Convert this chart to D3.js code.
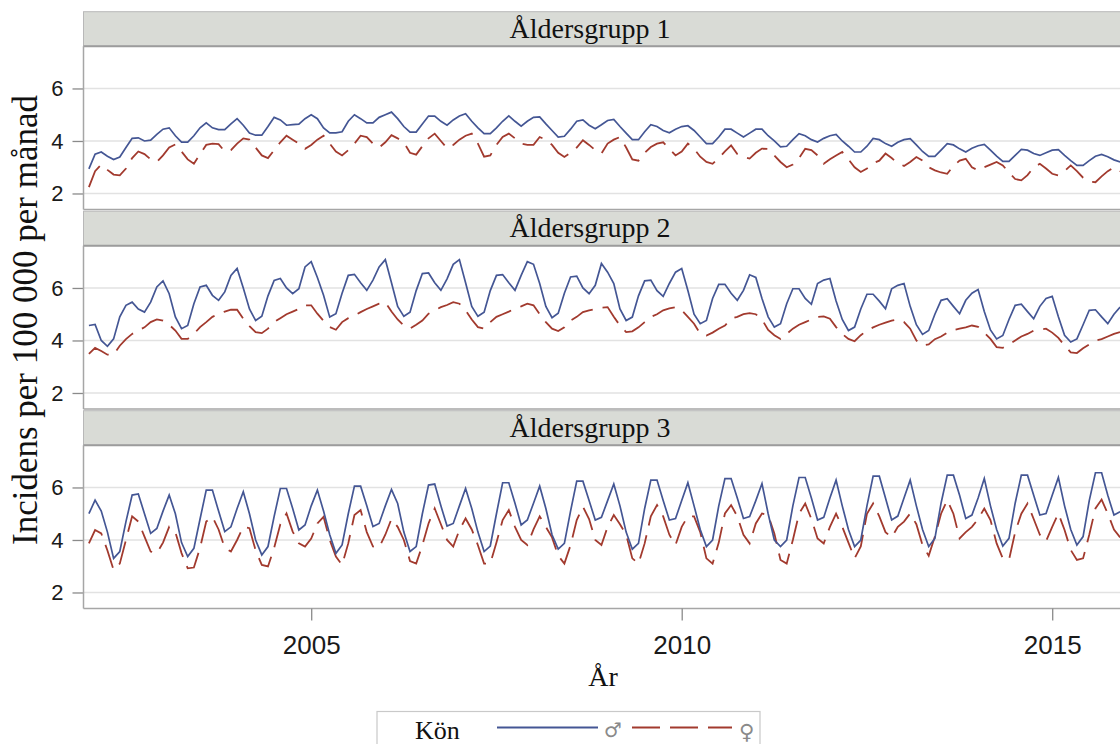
<!DOCTYPE html>
<html>
<head>
<meta charset="utf-8">
<script src="https://cdn.jsdelivr.net/npm/d3@7"></script>
<style>
  body { margin: 0; background: #fff; }
</style>
</head>
<body>
<div id="chart"></div>
<script>
'use strict';

// monthly series, Jan 2002 .. Dec 2015 (one row per year)
const START_YEAR = 2002;
const groupNames = ['Åldersgrupp 1', 'Åldersgrupp 2', 'Åldersgrupp 3'];
const yTickValues = [2, 4, 6];
const xTickValues = [2005, 2010, 2015];
const legendTitle = 'Kön';
const sexLabels = ['♂', '♀'];

const men1 = [
  2.94, 3.50, 3.58, 3.42, 3.29, 3.39, 3.75, 4.10, 4.12, 4.00, 4.03, 4.25,
  4.45, 4.50, 4.20, 3.96, 3.96, 4.20, 4.50, 4.69, 4.50, 4.43, 4.43, 4.65,
  4.85, 4.60, 4.30, 4.22, 4.22, 4.55, 4.90, 4.80, 4.60, 4.62, 4.64, 4.85,
  5.00, 4.85, 4.50, 4.31, 4.31, 4.35, 4.75, 5.00, 4.85, 4.69, 4.69, 4.90,
  5.00, 5.10, 4.85, 4.55, 4.34, 4.34, 4.65, 4.95, 4.95, 4.75, 4.60, 4.80,
  4.95, 5.04, 4.75, 4.50, 4.28, 4.28, 4.50, 4.75, 4.96, 4.75, 4.56, 4.75,
  4.90, 4.92, 4.65, 4.40, 4.15, 4.18, 4.45, 4.75, 4.80, 4.60, 4.47, 4.62,
  4.78, 4.82, 4.55, 4.30, 4.05, 4.05, 4.35, 4.62, 4.55, 4.40, 4.31, 4.45,
  4.55, 4.58, 4.40, 4.15, 3.90, 3.90, 4.15, 4.45, 4.45, 4.30, 4.15, 4.30,
  4.45, 4.45, 4.20, 4.00, 3.78, 3.80, 4.05, 4.28, 4.20, 4.05, 3.96, 4.10,
  4.20, 4.25, 4.00, 3.80, 3.58, 3.58, 3.80, 4.10, 4.05, 3.90, 3.80, 3.95,
  4.05, 4.09, 3.85, 3.60, 3.41, 3.41, 3.65, 3.90, 3.85, 3.70, 3.58, 3.72,
  3.82, 3.87, 3.65, 3.42, 3.22, 3.22, 3.45, 3.68, 3.65, 3.52, 3.45, 3.55,
  3.65, 3.67, 3.45, 3.25, 3.07, 3.07, 3.25, 3.42, 3.49, 3.40, 3.28, 3.20
];
const women1 = [
  2.24, 2.85, 3.10, 2.90, 2.72, 2.69, 2.95, 3.35, 3.60, 3.50, 3.30, 3.20,
  3.45, 3.75, 3.87, 3.60, 3.30, 3.13, 3.50, 3.85, 3.90, 3.88, 3.60, 3.65,
  3.90, 4.10, 4.05, 3.75, 3.45, 3.35, 3.65, 3.95, 4.20, 4.05, 3.90, 3.70,
  3.85, 4.05, 4.20, 3.90, 3.60, 3.45, 3.65, 3.90, 4.20, 4.15, 3.90, 3.75,
  3.95, 4.22, 4.10, 3.95, 3.55, 3.48, 3.80, 4.10, 4.28, 4.00, 3.72, 3.85,
  4.05, 4.20, 4.28, 3.90, 3.40, 3.45, 3.85, 4.15, 4.28, 4.10, 3.90, 3.85,
  3.85, 4.15, 4.05, 3.85, 3.55, 3.39, 3.55, 3.75, 4.03, 3.85, 3.65, 3.52,
  3.90, 4.05, 4.15, 3.75, 3.30, 3.25, 3.55, 3.77, 3.90, 3.95, 3.70, 3.45,
  3.60, 3.90, 3.70, 3.40, 3.20, 3.13, 3.35, 3.60, 3.83, 3.50, 3.40, 3.33,
  3.55, 3.71, 3.70, 3.45, 3.20, 3.00, 3.10, 3.35, 3.70, 3.65, 3.45, 3.13,
  3.30, 3.45, 3.58, 3.30, 3.00, 2.82, 2.95, 3.15, 3.25, 3.52, 3.35, 3.15,
  3.05, 3.20, 3.39, 3.25, 3.00, 2.88, 2.80, 2.75, 3.05, 3.25, 3.32, 3.00,
  2.88, 3.00, 3.10, 3.20, 3.07, 2.80, 2.55, 2.50, 2.70, 3.00, 3.13, 2.95,
  2.75, 2.69, 2.85, 3.07, 2.85, 2.60, 2.45, 2.43, 2.65, 2.85, 3.00, 2.85
];
const men2 = [
  4.57, 4.61, 4.00, 3.78, 4.06, 4.90, 5.34, 5.46, 5.20, 5.08, 5.46, 6.04,
  6.27, 5.78, 4.90, 4.45, 4.57, 5.40, 6.04, 6.10, 5.72, 5.53, 5.85, 6.48,
  6.74, 6.00, 5.20, 4.76, 4.92, 5.70, 6.29, 6.36, 6.00, 5.78, 5.97, 6.80,
  7.00, 6.40, 5.72, 4.89, 5.02, 5.80, 6.48, 6.52, 6.20, 5.91, 6.30, 6.80,
  7.08, 6.20, 5.30, 4.92, 5.08, 5.90, 6.55, 6.57, 6.20, 5.91, 6.35, 6.90,
  7.08, 6.20, 5.30, 4.92, 5.08, 5.90, 6.48, 6.51, 6.20, 5.91, 6.48, 7.00,
  6.90, 6.17, 5.30, 4.87, 5.04, 5.80, 6.42, 6.45, 6.00, 5.78, 6.10, 6.93,
  6.60, 6.17, 5.20, 4.76, 4.89, 5.70, 6.27, 6.30, 5.90, 5.68, 6.17, 6.60,
  6.74, 5.90, 5.00, 4.64, 4.76, 5.60, 6.14, 6.14, 5.80, 5.53, 5.91, 6.50,
  6.40, 5.60, 4.90, 4.51, 4.64, 5.40, 5.97, 5.97, 5.60, 5.38, 6.17, 6.30,
  6.36, 5.50, 4.80, 4.38, 4.51, 5.20, 5.76, 5.76, 5.50, 5.21, 5.97, 6.10,
  6.17, 5.30, 4.60, 4.23, 4.38, 5.00, 5.53, 5.59, 5.30, 5.02, 5.53, 5.80,
  5.94, 5.10, 4.40, 4.06, 4.19, 4.80, 5.34, 5.38, 5.10, 4.83, 5.30, 5.60,
  5.68, 4.90, 4.20, 3.94, 4.06, 4.60, 5.15, 5.17, 4.90, 4.64, 5.00, 5.27
];
const women2 = [
  3.49, 3.72, 3.60, 3.46, 3.46, 3.80, 4.05, 4.25, 4.38, 4.50, 4.70, 4.80,
  4.76, 4.60, 4.38, 4.06, 4.06, 4.25, 4.51, 4.70, 4.90, 5.00, 5.10, 5.17,
  5.17, 4.83, 4.55, 4.32, 4.28, 4.45, 4.70, 4.85, 5.00, 5.10, 5.20, 5.34,
  5.34, 5.02, 4.75, 4.51, 4.41, 4.70, 4.85, 4.95, 5.08, 5.20, 5.30, 5.40,
  5.46, 5.10, 4.80, 4.57, 4.45, 4.60, 4.76, 5.02, 5.15, 5.27, 5.35, 5.46,
  5.40, 5.15, 4.80, 4.51, 4.45, 4.70, 4.90, 5.00, 5.10, 5.21, 5.30, 5.40,
  5.34, 5.00, 4.70, 4.45, 4.36, 4.50, 4.76, 4.90, 5.08, 5.15, 5.20, 5.25,
  5.27, 4.90, 4.57, 4.32, 4.35, 4.50, 4.70, 4.90, 5.00, 5.15, 5.22, 5.27,
  5.15, 4.90, 4.64, 4.25, 4.19, 4.30, 4.45, 4.57, 4.83, 4.90, 5.00, 5.04,
  5.00, 4.80, 4.40, 4.20, 4.06, 4.25, 4.45, 4.60, 4.70, 4.80, 4.90, 4.92,
  4.83, 4.51, 4.25, 4.06, 3.97, 4.20, 4.38, 4.50, 4.60, 4.68, 4.76, 4.80,
  4.70, 4.45, 4.00, 3.81, 3.85, 4.05, 4.15, 4.30, 4.40, 4.45, 4.50, 4.57,
  4.52, 4.30, 4.06, 3.75, 3.72, 3.85, 4.00, 4.15, 4.25, 4.38, 4.42, 4.45,
  4.30, 4.10, 3.81, 3.55, 3.52, 3.70, 3.85, 4.00, 4.05, 4.15, 4.25, 4.32
];
const men3 = [
  5.00, 5.52, 5.10, 4.30, 3.30, 3.56, 4.70, 5.71, 5.75, 5.00, 4.25, 4.44,
  5.10, 5.71, 5.00, 3.90, 3.37, 3.68, 4.80, 5.90, 5.90, 5.10, 4.32, 4.50,
  5.20, 5.84, 5.00, 4.00, 3.43, 3.75, 4.90, 5.96, 5.96, 5.20, 4.38, 4.57,
  5.30, 5.90, 5.10, 4.20, 3.49, 3.81, 5.00, 6.05, 6.05, 5.30, 4.51, 4.63,
  5.30, 5.92, 5.39, 4.30, 3.56, 3.75, 5.00, 6.09, 6.13, 5.30, 4.53, 4.63,
  5.30, 5.96, 5.20, 4.30, 3.56, 3.77, 5.00, 6.18, 6.18, 5.40, 4.57, 4.76,
  5.40, 6.05, 5.20, 4.20, 3.65, 3.87, 5.10, 6.24, 6.24, 5.50, 4.76, 4.86,
  5.50, 6.13, 5.30, 4.30, 3.65, 3.87, 5.20, 6.28, 6.28, 5.50, 4.76, 4.82,
  5.50, 6.18, 5.30, 4.40, 3.75, 4.00, 5.30, 6.34, 6.34, 5.60, 4.82, 4.89,
  5.50, 6.15, 5.00, 4.00, 3.75, 4.00, 5.30, 6.38, 6.38, 5.60, 4.76, 4.86,
  5.60, 6.28, 5.30, 4.40, 3.75, 4.00, 5.30, 6.43, 6.43, 5.60, 4.76, 4.91,
  5.60, 6.28, 5.30, 4.40, 3.75, 4.06, 5.40, 6.47, 6.47, 5.70, 4.82, 4.95,
  5.60, 6.34, 5.30, 4.40, 3.77, 4.06, 5.40, 6.47, 6.47, 5.70, 4.95, 5.01,
  5.70, 6.38, 5.30, 4.40, 3.81, 4.13, 5.50, 6.56, 6.56, 5.70, 4.95, 5.08
];
const women3 = [
  3.87, 4.38, 4.25, 3.60, 2.86, 3.10, 4.00, 4.90, 4.70, 4.13, 3.56, 3.50,
  3.90, 4.50, 4.30, 3.50, 2.92, 2.95, 3.70, 4.70, 4.88, 4.40, 3.70, 3.56,
  4.00, 4.50, 4.45, 3.60, 3.05, 2.99, 3.70, 4.60, 5.01, 4.32, 3.87, 3.75,
  4.05, 4.63, 4.88, 4.00, 3.37, 3.05, 3.87, 4.95, 5.14, 4.30, 3.75, 3.72,
  4.20, 4.80, 4.50, 4.00, 3.20, 3.10, 3.80, 4.63, 5.20, 4.60, 4.00, 3.75,
  4.38, 4.82, 4.40, 3.80, 3.10, 3.10, 3.90, 4.76, 5.14, 4.50, 4.00, 3.81,
  4.40, 4.90, 4.50, 4.10, 3.40, 3.10, 3.80, 4.76, 5.27, 4.80, 4.00, 3.81,
  4.50, 4.95, 4.60, 4.20, 3.30, 3.10, 3.87, 4.90, 5.33, 4.90, 4.20, 3.81,
  4.50, 4.90, 4.90, 4.30, 3.30, 3.10, 3.90, 5.01, 5.33, 4.90, 4.20, 3.87,
  4.63, 5.01, 4.95, 4.25, 3.24, 3.10, 4.00, 5.00, 5.39, 4.80, 4.06, 3.87,
  4.50, 5.00, 4.50, 3.90, 3.30, 3.75, 5.00, 5.39, 4.90, 4.30, 4.10, 4.50,
  4.70, 5.01, 4.60, 3.80, 3.40, 4.13, 5.00, 5.52, 5.00, 4.06, 4.30, 4.50,
  4.80, 5.20, 4.76, 3.87, 3.30, 3.24, 4.30, 5.00, 5.39, 4.80, 4.20, 3.95,
  4.50, 5.01, 4.38, 3.62, 3.24, 3.30, 4.20, 5.20, 5.54, 5.00, 4.40, 4.10
];

const panels = [
  { name: groupNames[0], men: men1, women: women1 },
  { name: groupNames[1], men: men2, women: women2 },
  { name: groupNames[2], men: men3, women: women3 }
];

const COLOR_MEN = '#445694';
const COLOR_WOMEN = '#a23a2e';
const SERIF = '"Liberation Serif", "Times New Roman", serif';
const SANS = '"Liberation Sans", Arial, sans-serif';

const width = 1120, height = 744;
const plotLeft = 83.5;
const cellTop = 11.7, cellStep = 199.5;
const stripH = 34.5, plotH = 163.3;

const svg = d3.select('#chart').append('svg')
  .attr('width', width)
  .attr('height', height)
  .style('display', 'block');

svg.append('rect').attr('width', width).attr('height', height).attr('fill', '#fff');

// x: decimal years, one point per month
const xScale = d3.scaleLinear()
  .domain([2001.927, 2016.07])
  .range([plotLeft, plotLeft + 74.1 * 14.143]);
const plotRight = xScale.range()[1];

const yScale = d3.scaleLinear()
  .domain([1.39, 7.61])
  .range([plotH, 0]);

const monthX = (d, i) => xScale(START_YEAR + i / 12);

const line = d3.line()
  .x(monthX)
  .y(d => yScale(d));

svg.append('defs').append('clipPath').attr('id', 'plotClip')
  .append('rect')
  .attr('x', plotLeft).attr('y', 0)
  .attr('width', plotRight - plotLeft).attr('height', plotH);

panels.forEach((p, k) => {
  const top = cellTop + k * cellStep;

  // strip header
  const strip = svg.append('g').attr('transform', 'translate(0,' + top + ')');
  strip.append('rect')
    .attr('x', plotLeft).attr('y', 0)
    .attr('width', plotRight - plotLeft + 20).attr('height', stripH)
    .attr('fill', '#d9dbd6')
    .attr('stroke', '#b8b8b8').attr('stroke-width', 1);
  strip.append('line')
    .attr('x1', plotLeft).attr('x2', width)
    .attr('y1', stripH).attr('y2', stripH)
    .attr('stroke', '#9c9c9c').attr('stroke-width', 2);
  strip.append('text')
    .attr('x', 590).attr('y', 26)
    .attr('text-anchor', 'middle')
    .attr('font-family', SERIF).attr('font-size', 28)
    .attr('fill', '#111')
    .text(p.name);

  // plot area
  const g = svg.append('g').attr('transform', 'translate(0,' + (top + stripH) + ')');

  g.append('g')
    .selectAll('line')
    .data(yTickValues)
    .join('line')
    .attr('x1', plotLeft).attr('x2', plotRight)
    .attr('y1', d => yScale(d)).attr('y2', d => yScale(d))
    .attr('stroke', '#e2e2e2').attr('stroke-width', 1.5);

  const yAxis = g.append('g')
    .attr('transform', 'translate(' + plotLeft + ',0)')
    .call(d3.axisLeft(yScale).tickValues(yTickValues).tickFormat(d3.format('d'))
      .tickSize(11).tickPadding(9));
  yAxis.select('.domain').remove();
  yAxis.selectAll('line').attr('stroke', '#8a8a8a').attr('stroke-width', 1.3);
  yAxis.selectAll('text')
    .attr('font-family', SANS).attr('font-size', 22).attr('fill', '#1a1a1a');

  // left and bottom border
  g.append('line')
    .attr('x1', plotLeft).attr('x2', plotLeft)
    .attr('y1', 0).attr('y2', plotH)
    .attr('stroke', '#a6a6a6').attr('stroke-width', 1.5);
  g.append('line')
    .attr('x1', plotLeft).attr('x2', width)
    .attr('y1', plotH).attr('y2', plotH)
    .attr('stroke', '#a6a6a6').attr('stroke-width', 1.5);

  const lines = g.append('g').attr('clip-path', 'url(#plotClip)');
  lines.append('path')
    .datum(p.women)
    .attr('d', line)
    .attr('fill', 'none')
    .attr('stroke', COLOR_WOMEN)
    .attr('stroke-width', 1.8)
    .attr('stroke-dasharray', '24,10');
  lines.append('path')
    .datum(p.men)
    .attr('d', line)
    .attr('fill', 'none')
    .attr('stroke', COLOR_MEN)
    .attr('stroke-width', 1.7);

  // x axis under the last panel only
  if (k === panels.length - 1) {
    const xAxis = g.append('g')
      .attr('transform', 'translate(0,' + plotH + ')')
      .call(d3.axisBottom(xScale).tickValues(xTickValues).tickFormat(d3.format('d'))
        .tickSize(12).tickPadding(15));
    xAxis.select('.domain').remove();
    xAxis.selectAll('line').attr('stroke', '#8a8a8a').attr('stroke-width', 1.3);
    xAxis.selectAll('text')
      .attr('font-family', SANS).attr('font-size', 26).attr('fill', '#1a1a1a');
  }
});

// axis titles
svg.append('text')
  .attr('transform', 'translate(37,320) rotate(-90)')
  .attr('text-anchor', 'middle')
  .attr('font-family', SERIF).attr('font-size', 35)
  .attr('fill', '#111')
  .text('Incidens per 100 000 per månad');

svg.append('text')
  .attr('x', 603).attr('y', 686)
  .attr('text-anchor', 'middle')
  .attr('font-family', SERIF).attr('font-size', 28)
  .attr('fill', '#111')
  .text('År');

// legend
const legend = svg.append('g');
legend.append('rect')
  .attr('x', 377).attr('y', 711.5)
  .attr('width', 383).attr('height', 45)
  .attr('fill', '#fff')
  .attr('stroke', '#c9c9c9').attr('stroke-width', 1.2);
legend.append('text')
  .attr('x', 415).attr('y', 739)
  .attr('font-family', SERIF).attr('font-size', 26)
  .attr('fill', '#111')
  .text(legendTitle);
legend.append('line')
  .attr('x1', 497).attr('x2', 598)
  .attr('y1', 727.5).attr('y2', 727.5)
  .attr('stroke', COLOR_MEN).attr('stroke-width', 1.8);
legend.append('text')
  .attr('x', 604).attr('y', 737)
  .attr('font-family', '"DejaVu Sans", sans-serif').attr('font-size', 20)
  .attr('fill', '#8a8a8a')
  .text(sexLabels[0]);
legend.append('line')
  .attr('x1', 632).attr('x2', 732)
  .attr('y1', 727.5).attr('y2', 727.5)
  .attr('stroke', COLOR_WOMEN).attr('stroke-width', 1.8)
  .attr('stroke-dasharray', '28,10');
legend.append('text')
  .attr('x', 739).attr('y', 739)
  .attr('font-family', '"DejaVu Sans", sans-serif').attr('font-size', 21)
  .attr('fill', '#8a8a8a')
  .text(sexLabels[1]);
</script>
</body>
</html>
